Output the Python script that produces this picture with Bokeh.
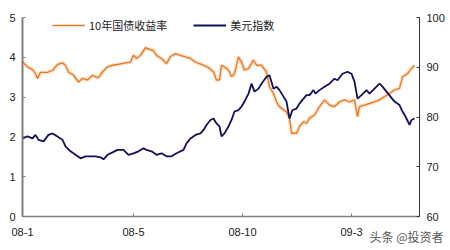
from bokeh.plotting import figure
from bokeh.models import (Range1d, LinearAxis, FixedTicker, Legend, LegendItem, Title)
from bokeh.embed import file_html
from bokeh.resources import INLINE

# ---- data (x = trading-day index from 2008-01) ----
yield_day = [0, 5, 10, 13, 15, 18, 25, 30, 35, 40, 43, 46, 51, 56, 60, 65, 70, 73, 76, 80, 85, 90, 95,
             103, 108, 111, 114, 118, 123, 128, 131, 134, 139, 144, 148, 153, 158, 163, 168, 173, 179, 186,
             191, 194, 197, 199, 202, 206, 209, 212, 216, 219, 222, 226, 231, 234, 239, 244, 247, 251, 254,
             257, 261, 264, 267, 269, 274, 277, 281, 284, 287, 292, 297, 302, 307, 312, 317, 322, 327, 332,
             335, 337, 342, 347, 352, 357, 362, 367, 372, 377, 380, 385, 389, 392]
yield_val = [3.88, 3.76, 3.69, 3.59, 3.47, 3.62, 3.62, 3.67, 3.82, 3.86, 3.80, 3.63, 3.55, 3.38, 3.47,
             3.43, 3.55, 3.51, 3.49, 3.63, 3.76, 3.80, 3.82,
             3.86, 3.88, 4.05, 3.97, 4.05, 4.24, 4.19, 4.17, 4.05, 3.97, 3.84, 4.02, 4.09, 4.05, 4.01,
             3.97, 3.88, 3.82, 3.74, 3.63, 3.43, 3.43, 3.80, 3.76, 3.68, 3.51, 3.59, 4.01, 3.88, 3.68,
             3.72, 3.93, 3.80, 3.80, 3.63, 3.26, 3.09, 2.88, 2.76, 2.68, 2.63, 2.47, 2.09, 2.09, 2.26,
             2.38, 2.34, 2.47, 2.55, 2.76, 2.93, 2.80, 2.76, 2.88, 2.93, 2.88, 2.93, 2.51, 2.76, 2.80,
             2.84, 2.88, 2.93, 3.01, 3.09, 3.18, 3.22, 3.51, 3.59, 3.72, 3.80]

usd_day = [0, 5, 10, 13, 16, 21, 26, 30, 35, 40, 43, 48, 53, 58, 63, 68, 73, 78, 81, 85, 90, 95,
           101, 106, 111, 116, 121, 124, 129, 134, 139, 144, 149, 154, 161, 164, 168, 173, 178, 181,
           184, 188, 191, 194, 197, 199, 202, 206, 209, 212, 216, 219, 222, 226, 229, 232, 236, 239,
           244, 247, 251, 254, 257, 261, 264, 267, 270, 274, 277, 281, 284, 287, 291, 293, 297, 302,
           307, 312, 315, 320, 325, 329, 332, 335, 339, 344, 347, 352, 357, 360, 364, 368, 372, 377,
           380, 383, 387, 389, 392]
usd_val = [75.7, 76.1, 75.7, 76.4, 75.4, 75.1, 76.4, 76.7, 76.1, 75.4, 74.1, 73.1, 72.4, 71.7, 72.1,
           72.1, 72.1, 71.9, 71.5, 72.4, 72.9, 73.4,
           73.4, 72.4, 72.7, 73.1, 73.7, 73.4, 73.1, 72.4, 72.7, 72.1, 72.1, 72.7, 73.4, 74.7, 75.7,
           76.4, 76.7, 77.4, 78.4, 79.4, 79.7, 78.7, 78.1, 76.1, 76.7, 78.1, 79.4, 81.1, 81.4, 82.1,
           83.1, 84.7, 86.7, 85.1, 85.7, 86.7, 88.1, 88.4, 85.7, 86.1, 85.4, 84.1, 83.1, 79.7, 81.4,
           81.7, 82.7, 83.7, 84.4, 84.4, 85.4, 84.7, 85.4, 86.1, 86.7, 87.7, 87.4, 88.7, 89.1, 88.7,
           87.1, 83.7, 84.4, 85.4, 84.7, 85.7, 86.7, 86.1, 85.1, 84.1, 83.1, 82.4, 81.1, 80.1, 78.4,
           79.4, 79.7]

tick_days = [0, 111, 220, 329]
tick_labels = ["08-1", "08-5", "08-10", "09-3"]
left_ticks = [0, 1, 2, 3, 4, 5]
right_ticks = [60, 70, 80, 90, 100]
series_names = ["10年国债收益率", "美元指数"]
watermark = "头条 @投资者"

ORANGE = "#EC7A24"
NAVY = "#10105E"
FONT = "Liberation Sans"

p = figure(width=450, height=250, output_backend="svg", toolbar_location=None,
           x_range=Range1d(0, 397), y_range=Range1d(0, 5),
           min_border_left=22, min_border_right=31, min_border_top=17, min_border_bottom=34)
p.extra_y_ranges = {"usd": Range1d(60, 100)}
p.outline_line_color = None
p.xgrid.visible = False
p.ygrid.visible = False
p.background_fill_color = "white"
p.border_fill_color = "white"

halo = p.line(yield_day, yield_val, line_color="#F6B27A", line_width=4, line_alpha=0.35)
r1 = p.line(yield_day, yield_val, line_color=ORANGE, line_width=1.4)
r2 = p.line(usd_day, usd_val, line_color=NAVY, line_width=1.8, y_range_name="usd")

# axes styling
def style(ax):
    ax.major_label_text_font = FONT
    ax.major_label_text_font_size = "11px"
    ax.major_label_text_color = "#222222"
    ax.minor_tick_line_color = None
    ax.major_tick_in = 3
    ax.major_tick_out = 0
    ax.major_label_standoff = 7

xa = p.xaxis[0]
xa.ticker = FixedTicker(ticks=tick_days)
xa.major_label_overrides = {d: l for d, l in zip(tick_days, tick_labels)}
style(xa)
xa.major_label_standoff = 11
xa.axis_line_color = "#7f7f7f"
xa.axis_line_width = 1.5
xa.major_tick_line_color = "#7f7f7f"

ya = p.yaxis[0]
ya.ticker = FixedTicker(ticks=left_ticks)
style(ya)
ya.axis_line_color = "#7f7f7f"
ya.axis_line_width = 2
ya.major_tick_line_color = "#7f7f7f"

ra = LinearAxis(y_range_name="usd", ticker=FixedTicker(ticks=right_ticks))
style(ra)
ra.axis_line_color = "#333333"
ra.axis_line_width = 1
ra.major_tick_line_color = "#333333"
p.add_layout(ra, "right")

legend = Legend(items=[LegendItem(label=series_names[0], renderers=[r1]),
                       LegendItem(label=series_names[1], renderers=[r2])],
                orientation="horizontal", location=(30, 183),
                label_text_font="Noto Sans CJK SC", label_text_font_size="11px",
                label_text_color="#222222",
                glyph_width=33, glyph_height=12, label_height=12, label_standoff=4,
                spacing=26, padding=0, margin=0,
                border_line_color=None, background_fill_alpha=0)
p.add_layout(legend, "center")

wm = Title(text=watermark, align="right", offset=-24, standoff=-22, vertical_align="top",
           text_font="Noto Sans CJK SC", text_font_size="12px", text_font_style="normal",
           text_color="#555555")
p.add_layout(wm, "below")

open("out.html", "w").write(file_html(p, INLINE))
